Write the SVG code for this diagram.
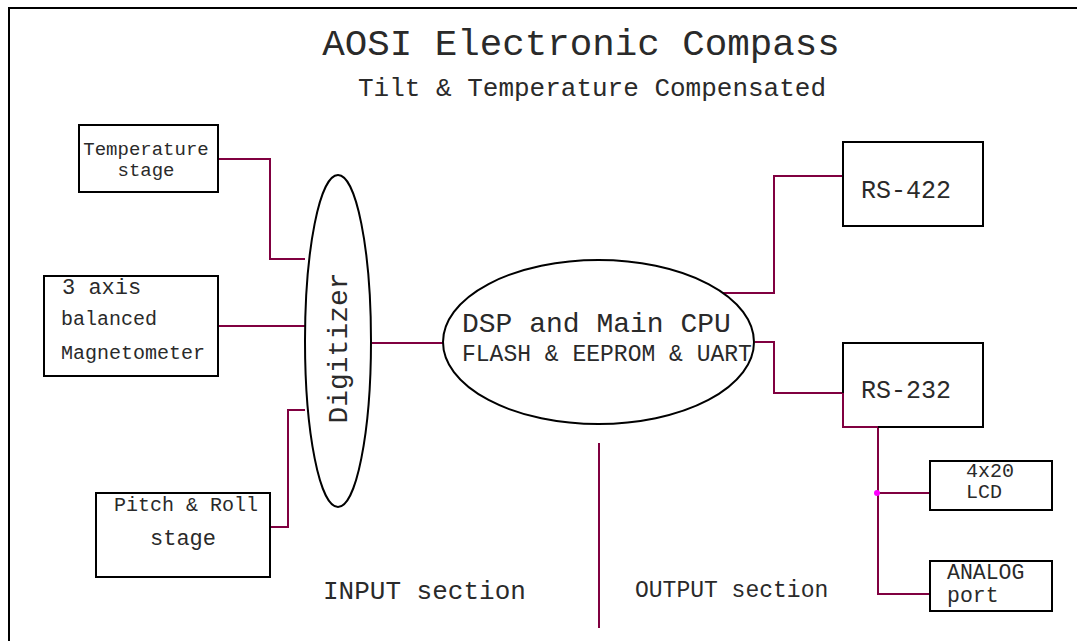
<svg xmlns="http://www.w3.org/2000/svg" width="1077" height="641" viewBox="0 0 1077 641">
<style>
.box{fill:#fff;stroke:#000;stroke-width:2}
.ell{fill:#fff;stroke:#000;stroke-width:2}
.wire{fill:none;stroke:#800040;stroke-width:2}
text{font-family:"Liberation Mono","Courier New",monospace;fill:#2a2a2a}
</style>
<rect x="0" y="0" width="1077" height="641" fill="#fff"/>
<path d="M9,641 V8 H1077" fill="none" stroke="#000" stroke-width="2"/>
<text x="581" y="55" font-size="37.5" text-anchor="middle">AOSI Electronic Compass</text>
<text x="592" y="96" font-size="26" text-anchor="middle">Tilt &amp; Temperature Compensated</text>
<g id="connectors">
<path class="wire" d="M218,159 H270 V259 H305"/>
<path class="wire" d="M218,326 H305"/>
<path class="wire" d="M270,543 V527 H288 V410 H305"/>
<path class="wire" d="M372,343 H443"/>
<path class="wire" d="M722,293 H774 V176 H843"/>
<path class="wire" d="M755,342 H774 V393 H843 V427 H878 V594 H930"/>
<path class="wire" d="M878,493 H930"/>
<path class="wire" d="M599,443 V628"/>
<circle cx="877" cy="493" r="3" fill="#ff00ff"/>
</g>
<g id="temperature">
<rect class="box" x="79" y="125" width="139" height="67"/>
<text x="146" y="155" font-size="19" text-anchor="middle">Temperature</text>
<text x="146" y="176" font-size="19" text-anchor="middle">stage</text>
</g>
<g id="magnetometer">
<rect class="box" x="44" y="276" width="174" height="100"/>
<text x="62" y="294" font-size="22">3 axis</text>
<text x="61" y="325" font-size="20">balanced</text>
<text x="61" y="359" font-size="20">Magnetometer</text>
</g>
<g id="pitchroll">
<rect class="box" x="96" y="493" width="174" height="84"/>
<text x="186" y="511" font-size="20" text-anchor="middle">Pitch &amp; Roll</text>
<text x="183" y="545" font-size="22" text-anchor="middle">stage</text>
</g>
<g id="digitizer">
<ellipse class="ell" cx="338" cy="341" rx="33" ry="166"/>
<text transform="translate(347,348) rotate(-90)" font-size="28" text-anchor="middle">Digitizer</text>
</g>
<g id="cpu">
<ellipse class="ell" cx="598.5" cy="342" rx="155.5" ry="82"/>
<text x="462" y="332" font-size="28">DSP and Main CPU</text>
<text x="462" y="361" font-size="23">FLASH &amp; EEPROM &amp; UART</text>
</g>
<g id="rs422">
<rect class="box" x="843" y="142" width="140" height="84"/>
<text x="861" y="198" font-size="25">RS-422</text>
</g>
<g id="rs232">
<rect class="box" x="843" y="343" width="140" height="84"/>
<text x="861" y="398" font-size="25">RS-232</text>
<path class="wire" d="M843,393 V427 H878"/>
</g>
<g id="lcd">
<rect class="box" x="930" y="461" width="122" height="49"/>
<text x="966" y="477" font-size="20">4x20</text>
<text x="966" y="498" font-size="20">LCD</text>
</g>
<g id="analog">
<rect class="box" x="930" y="561" width="122" height="50"/>
<text x="947" y="579" font-size="21.5">ANALOG</text>
<text x="947" y="602" font-size="21.5">port</text>
</g>
<text x="323" y="599" font-size="26">INPUT section</text>
<text x="635" y="597" font-size="23">OUTPUT section</text>
</svg>
